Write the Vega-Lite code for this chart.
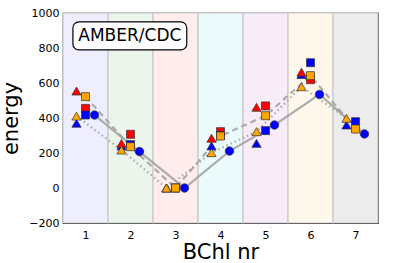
{
  "$schema": "https://vega.github.io/schema/vega-lite/v6.json",
  "width": 315,
  "height": 210,
  "autosize": {"type": "none"},
  "padding": {"left": 63, "top": 13, "right": 17, "bottom": 40},
  "config": {
    "font": "DejaVu Sans",
    "view": {"stroke": "#000000", "strokeWidth": 1.2},
    "axis": {"labelFont": "DejaVu Sans", "titleFont": "DejaVu Sans", "labelColor": "#000", "titleColor": "#000", "tickColor": "#000", "domain": false, "grid": false, "titleFontWeight": "normal", "labelOverlap": false}
  },
  "datasets": {
    "bands": [
      {"bchl": 1, "lo": 0.5, "hi": 1.5},
      {"bchl": 2, "lo": 1.5, "hi": 2.5},
      {"bchl": 3, "lo": 2.5, "hi": 3.5},
      {"bchl": 4, "lo": 3.5, "hi": 4.5},
      {"bchl": 5, "lo": 4.5, "hi": 5.5},
      {"bchl": 6, "lo": 5.5, "hi": 6.5},
      {"bchl": 7, "lo": 6.5, "hi": 7.5}
    ],
    "pts": [
      {"bchl": 1, "model": "triangle", "set": "B", "energy": 370},
      {"bchl": 1, "model": "triangle", "set": "R", "energy": 554},
      {"bchl": 1, "model": "triangle", "set": "O", "energy": 411},
      {"bchl": 2, "model": "triangle", "set": "B", "energy": 240},
      {"bchl": 2, "model": "triangle", "set": "R", "energy": 255},
      {"bchl": 2, "model": "triangle", "set": "O", "energy": 217},
      {"bchl": 3, "model": "triangle", "set": "B", "energy": 0},
      {"bchl": 3, "model": "triangle", "set": "R", "energy": 0},
      {"bchl": 3, "model": "triangle", "set": "O", "energy": 0},
      {"bchl": 4, "model": "triangle", "set": "B", "energy": 240},
      {"bchl": 4, "model": "triangle", "set": "R", "energy": 284},
      {"bchl": 4, "model": "triangle", "set": "O", "energy": 202},
      {"bchl": 5, "model": "triangle", "set": "B", "energy": 255},
      {"bchl": 5, "model": "triangle", "set": "R", "energy": 461},
      {"bchl": 5, "model": "triangle", "set": "O", "energy": 322},
      {"bchl": 6, "model": "triangle", "set": "B", "energy": 648},
      {"bchl": 6, "model": "triangle", "set": "R", "energy": 662},
      {"bchl": 6, "model": "triangle", "set": "O", "energy": 579},
      {"bchl": 7, "model": "triangle", "set": "B", "energy": 360},
      {"bchl": 7, "model": "triangle", "set": "O", "energy": 398},
      {"bchl": 1, "model": "square", "set": "R", "energy": 455},
      {"bchl": 1, "model": "square", "set": "B", "energy": 417},
      {"bchl": 1, "model": "square", "set": "O", "energy": 522},
      {"bchl": 2, "model": "square", "set": "R", "energy": 307},
      {"bchl": 2, "model": "square", "set": "B", "energy": 248},
      {"bchl": 2, "model": "square", "set": "O", "energy": 236},
      {"bchl": 3, "model": "square", "set": "R", "energy": 0},
      {"bchl": 3, "model": "square", "set": "B", "energy": 0},
      {"bchl": 3, "model": "square", "set": "O", "energy": 0},
      {"bchl": 4, "model": "square", "set": "R", "energy": 322},
      {"bchl": 4, "model": "square", "set": "B", "energy": 300},
      {"bchl": 4, "model": "square", "set": "O", "energy": 297},
      {"bchl": 5, "model": "square", "set": "R", "energy": 469},
      {"bchl": 5, "model": "square", "set": "B", "energy": 328},
      {"bchl": 5, "model": "square", "set": "O", "energy": 413},
      {"bchl": 6, "model": "square", "set": "R", "energy": 619},
      {"bchl": 6, "model": "square", "set": "B", "energy": 716},
      {"bchl": 6, "model": "square", "set": "O", "energy": 642},
      {"bchl": 7, "model": "square", "set": "B", "energy": 379},
      {"bchl": 7, "model": "square", "set": "O", "energy": 337},
      {"bchl": 1, "model": "circle", "set": "B", "energy": 417},
      {"bchl": 2, "model": "circle", "set": "B", "energy": 208},
      {"bchl": 3, "model": "circle", "set": "B", "energy": 0},
      {"bchl": 4, "model": "circle", "set": "B", "energy": 211},
      {"bchl": 5, "model": "circle", "set": "B", "energy": 360},
      {"bchl": 6, "model": "circle", "set": "B", "energy": 535},
      {"bchl": 7, "model": "circle", "set": "B", "energy": 309}
    ]
  },
  "layer": [
    {
      "data": {"name": "bands"},
      "mark": {"type": "rect", "stroke": "#c8c8c8", "strokeWidth": 1.2},
      "encoding": {
        "x": {"field": "lo", "type": "quantitative", "scale": {"domain": [0.5, 7.5], "nice": false, "zero": false}, "axis": {"title": "BChl nr", "values": [1,2,3,4,5,6,7], "format": "d", "tickSize": -4, "labelPadding": 10, "labelFontSize": 11, "titleFontSize": 21, "titleX": 157.5, "titleY": 35.5, "titleBaseline": "alphabetic", "titleAnchor": null, "titleAlign": "center"}},
        "x2": {"field": "hi"},
        "y": {"datum": -200, "type": "quantitative", "scale": {"domain": [-200, 1000], "nice": false}, "axis": {"title": "energy", "values": [-200,0,200,400,600,800,1000], "format": "d", "tickSize": -4, "labelPadding": 8, "labelFontSize": 11, "titleFontSize": 21, "titleX": -52, "titleY": 105, "titleAngle": -90, "titleBaseline": "middle", "titleAlign": "center", "titleAnchor": null}},
        "y2": {"datum": 1000},
        "fill": {"field": "bchl", "type": "nominal", "legend": null, "scale": {"domain": [1,2,3,4,5,6,7], "range": ["#eeeefe", "#ecf5ec", "#ffecec", "#ebfafa", "#f7ecf8", "#fef8ec", "#ececec"]}}
      }
    },
    {
      "data": {"name": "pts"},
      "transform": [{"filter": "datum.model === 'circle'"}],
      "mark": {"type": "line", "color": "#a0a0a0", "strokeWidth": 2.2, "opacity": 0.85, "xOffset": 9},
      "encoding": {
        "x": {"field": "bchl", "type": "quantitative", "scale": {"domain": [0.5, 7.5], "nice": false, "zero": false}, "axis": null},
        "y": {"field": "energy", "type": "quantitative", "scale": {"domain": [-200, 1000], "nice": false}, "axis": null}
      }
    },
    {
      "data": {"name": "pts"},
      "transform": [{"filter": "datum.model === 'square' && datum.set === 'O'"}],
      "mark": {"type": "line", "color": "#a0a0a0", "strokeWidth": 2.2, "opacity": 0.85, "strokeDash": [6, 4]},
      "encoding": {
        "x": {"field": "bchl", "type": "quantitative", "scale": {"domain": [0.5, 7.5], "nice": false, "zero": false}, "axis": null},
        "y": {"field": "energy", "type": "quantitative", "scale": {"domain": [-200, 1000], "nice": false}, "axis": null}
      }
    },
    {
      "data": {"name": "pts"},
      "transform": [{"filter": "datum.model === 'triangle' && datum.set === 'O'"}],
      "mark": {"type": "line", "color": "#a0a0a0", "strokeWidth": 2.2, "opacity": 0.85, "strokeDash": [1.5, 3], "xOffset": -9},
      "encoding": {
        "x": {"field": "bchl", "type": "quantitative", "scale": {"domain": [0.5, 7.5], "nice": false, "zero": false}, "axis": null},
        "y": {"field": "energy", "type": "quantitative", "scale": {"domain": [-200, 1000], "nice": false}, "axis": null}
      }
    },
    {
      "data": {"name": "pts"},
      "transform": [{"filter": "datum.model === 'triangle'"}],
      "mark": {"type": "point", "shape": "triangle-up", "filled": true, "size": 85, "stroke": "#333333", "strokeWidth": 0.7, "opacity": 1, "xOffset": -9},
      "encoding": {
        "x": {"field": "bchl", "type": "quantitative", "scale": {"domain": [0.5, 7.5], "nice": false, "zero": false}, "axis": null},
        "y": {"field": "energy", "type": "quantitative", "scale": {"domain": [-200, 1000], "nice": false}, "axis": null},
        "fill": {"field": "set", "type": "nominal", "legend": null, "scale": {"domain": ["R", "B", "O"], "range": ["#ff0000", "#0000ff", "#ffa500"]}}
      }
    },
    {
      "data": {"name": "pts"},
      "transform": [{"filter": "datum.model === 'square'"}],
      "mark": {"type": "point", "shape": "square", "filled": true, "size": 64, "stroke": "#333333", "strokeWidth": 0.7, "opacity": 1},
      "encoding": {
        "x": {"field": "bchl", "type": "quantitative", "scale": {"domain": [0.5, 7.5], "nice": false, "zero": false}, "axis": null},
        "y": {"field": "energy", "type": "quantitative", "scale": {"domain": [-200, 1000], "nice": false}, "axis": null},
        "fill": {"field": "set", "type": "nominal", "legend": null, "scale": {"domain": ["R", "B", "O"], "range": ["#ff0000", "#0000ff", "#ffa500"]}}
      }
    },
    {
      "data": {"name": "pts"},
      "transform": [{"filter": "datum.model === 'circle'"}],
      "mark": {"type": "point", "shape": "circle", "filled": true, "size": 72, "stroke": "#333333", "strokeWidth": 0.7, "opacity": 1, "xOffset": 9},
      "encoding": {
        "x": {"field": "bchl", "type": "quantitative", "scale": {"domain": [0.5, 7.5], "nice": false, "zero": false}, "axis": null},
        "y": {"field": "energy", "type": "quantitative", "scale": {"domain": [-200, 1000], "nice": false}, "axis": null},
        "fill": {"field": "set", "type": "nominal", "legend": null, "scale": {"domain": ["R", "B", "O"], "range": ["#ff0000", "#0000ff", "#ffa500"]}}
      }
    },
    {
      "data": {"values": [{}]},
      "mark": {"type": "rect", "fill": "#ffffff", "stroke": "#000000", "strokeWidth": 1.2, "cornerRadius": 6},
      "encoding": {
        "x": {"datum": 0.72, "type": "quantitative", "scale": {"domain": [0.5, 7.5], "nice": false, "zero": false}, "axis": {"orient": "top", "title": null, "labels": false, "values": [1,2,3,4,5,6,7], "tickSize": -4}},
        "x2": {"datum": 3.25},
        "y": {"datum": 949, "type": "quantitative", "scale": {"domain": [-200, 1000], "nice": false}, "axis": {"orient": "right", "title": null, "labels": false, "values": [-200,0,200,400,600,800,1000], "tickSize": -4}},
        "y2": {"datum": 789}
      }
    },
    {
      "data": {"values": [{"label": "AMBER/CDC"}]},
      "mark": {"type": "text", "fontSize": 17, "font": "DejaVu Sans", "color": "#000000", "align": "center", "baseline": "middle"},
      "encoding": {
        "x": {"datum": 1.985, "type": "quantitative", "scale": {"domain": [0.5, 7.5], "nice": false, "zero": false}, "axis": null},
        "y": {"datum": 869, "type": "quantitative", "scale": {"domain": [-200, 1000], "nice": false}, "axis": null},
        "text": {"field": "label"}
      }
    }
  ],
  "resolve": {"scale": {"fill": "independent"}, "axis": {"x": "independent", "y": "independent"}}
}
